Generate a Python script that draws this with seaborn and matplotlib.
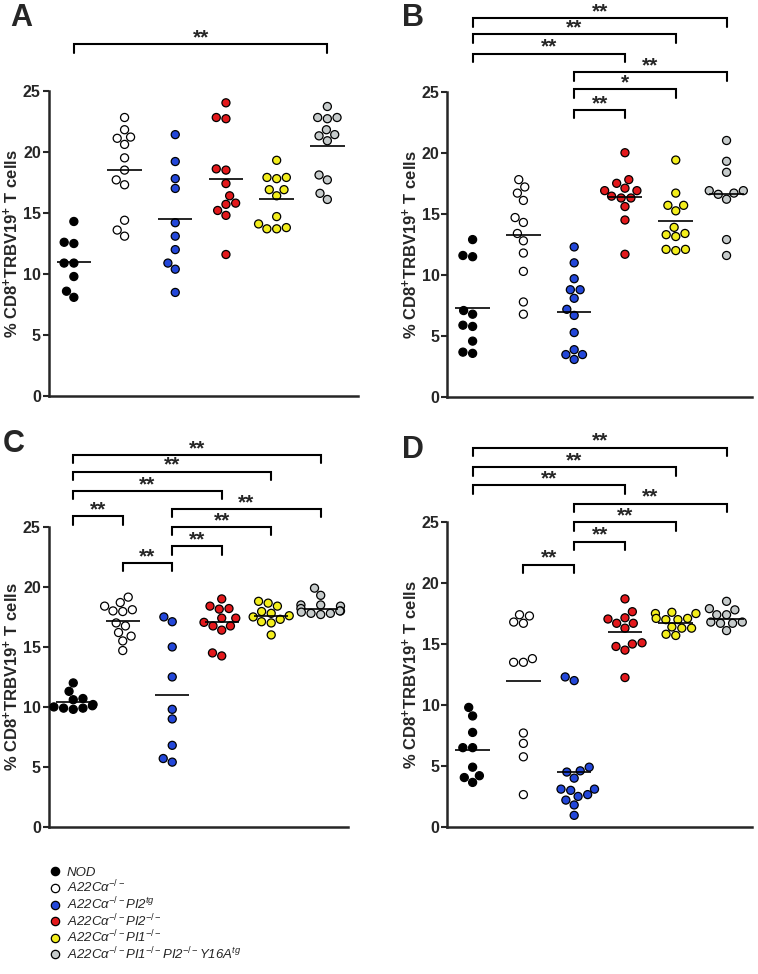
import numpy as np
import pandas as pd
import seaborn as sns
import matplotlib.pyplot as plt
from matplotlib.lines import Line2D

# groups (legend order) and colours
groups = ["NOD",
          r"A22Cα$^{-/-}$",
          r"A22Cα$^{-/-}$PI2$^{tg}$",
          r"A22Cα$^{-/-}$PI2$^{-/-}$",
          r"A22Cα$^{-/-}$PI1$^{-/-}$",
          r"A22Cα$^{-/-}$PI1$^{-/-}$PI2$^{-/-}$Y16A$^{tg}$"]
colors = ["#000000", "#ffffff", "#2347d9", "#e3191c", "#f3ee1c", "#c6cbcb"]

# panel A
a_nod = [14.3, 12.5, 12.6, 10.9, 10.9, 9.8, 8.6, 8.1]
a_ko = [22.8, 21.8, 21.2, 21.1, 20.6, 19.5, 18.5, 17.7, 17.3, 14.4, 13.6, 13.1]
a_pi2tg = [21.4, 19.2, 17.8, 17.0, 14.2, 13.1, 12.0, 10.9, 10.4, 8.5]
a_pi2ko = [24.0, 22.7, 22.8, 18.6, 18.5, 17.4, 16.4, 15.8, 15.7, 15.2, 14.8, 11.6]
a_pi1ko = [19.3, 17.9, 17.8, 17.9, 16.9, 16.9, 16.4, 14.7, 14.1, 13.8, 13.7, 13.7]
a_y16a = [23.7, 22.8, 22.7, 22.8, 21.8, 21.4, 21.3, 20.9, 18.1, 17.7, 16.6, 16.1]
a_means = [10.95, 18.5, 14.5, 17.8, 16.1, 20.5]

# panel B
b_nod = [12.9, 11.5, 11.6, 7.1, 6.8, 5.8, 5.9, 4.6, 3.6, 3.7]
b_ko = [16.7, 17.8, 17.2, 16.1, 14.3, 14.7, 13.4, 12.8, 11.8, 10.3, 7.8, 6.8]
b_pi2tg = [12.3, 11.0, 9.7, 8.8, 8.8, 8.1, 7.2, 6.7, 5.3, 3.5, 3.1, 3.5, 3.9]
b_pi2ko = [20.0, 17.5, 17.8, 16.9, 17.1, 16.9, 16.45, 16.3, 16.3, 15.6, 14.5, 11.7]
b_pi1ko = [19.4, 16.7, 15.7, 15.7, 15.25, 13.9, 13.4, 13.15, 13.3, 12.1, 12.0, 12.1]
b_y16a = [21.0, 19.3, 18.4, 16.9, 16.6, 16.9, 16.7, 16.2, 12.9, 11.6]
b_means = [7.3, 13.3, 7.0, 16.4, 14.4, 16.6]

# panel C
c_nod = [12.0, 11.3, 10.7, 10.6, 10.1, 10.0, 9.9, 9.9, 9.8, 10.2]
c_ko = [19.15, 18.7, 18.4, 17.95, 18.0, 18.1, 17.0, 16.75, 16.2, 15.9, 15.5, 14.7]
c_pi2tg = [17.5, 17.1, 15.0, 12.5, 9.8, 9.0, 6.8, 5.4, 5.7]
c_pi2ko = [18.4, 18.15, 18.2, 19.0, 17.4, 17.05, 17.4, 16.75, 16.75, 16.4, 14.25, 14.5]
c_pi1ko = [18.8, 18.4, 18.65, 17.95, 17.8, 17.6, 17.3, 17.1, 17.0, 17.5, 16.0]
c_y16a = [19.9, 19.3, 18.5, 18.4, 18.5, 18.2, 18.0, 17.9, 17.8, 18.0, 17.7, 17.8]
c_means = [10.45, 17.2, 11.0, 17.1, 17.6, 18.2]

# panel D
d_nod = [9.8, 9.1, 7.75, 6.5, 6.5, 4.9, 4.2, 4.05, 3.65]
d_ko = [17.3, 16.7, 16.8, 17.4, 13.5, 13.5, 13.8, 7.7, 6.85, 5.75, 2.65]
d_pi2tg = [12.3, 12.0, 4.6, 4.5, 4.9, 4.0, 3.1, 3.0, 3.1, 2.5, 2.65, 2.2, 1.8, 0.95]
d_pi2ko = [18.7, 17.65, 17.05, 17.15, 16.7, 16.3, 16.7, 15.1, 14.8, 14.5, 15.0, 12.25]
d_pi1ko = [17.5, 17.6, 17.5, 17.1, 17.0, 17.0, 17.1, 16.3, 16.3, 16.4, 15.7, 15.8]
d_y16a = [18.5, 17.8, 17.9, 17.4, 17.4, 16.8, 16.7, 16.8, 16.7, 16.1]
d_means = [6.3, 12.0, 4.5, 16.0, 16.7, 17.05]

# significance brackets: (group1, group2, height, label)
a_sig = [(0, 5, 28.8, "**")]
b_sig = [(0, 5, 31.0, "**"), (0, 4, 29.7, "**"), (0, 3, 28.1, "**"),
         (2, 5, 26.6, "**"), (2, 4, 25.2, "*"), (2, 3, 23.5, "**")]
c_sig = [(0, 5, 31.0, "**"), (0, 4, 29.6, "**"), (0, 3, 28.0, "**"),
         (2, 5, 26.5, "**"), (0, 1, 25.9, "**"), (2, 4, 25.0, "**"),
         (2, 3, 23.4, "**"), (1, 2, 22.0, "**")]
d_sig = [(0, 5, 31.1, "**"), (0, 4, 29.5, "**"), (0, 3, 28.0, "**"),
         (2, 5, 26.5, "**"), (2, 4, 25.0, "**"), (2, 3, 23.4, "**"),
         (1, 2, 21.5, "**")]

sns.set_style("ticks")
plt.rcParams['font.family'] = ['Liberation Sans', 'DejaVu Sans']
plt.rcParams['mathtext.fontset'] = 'custom'
plt.rcParams['mathtext.rm'] = 'Liberation Sans'
plt.rcParams['mathtext.it'] = 'Liberation Sans:italic'
plt.rcParams['mathtext.bf'] = 'Liberation Sans:bold'
plt.rcParams['mathtext.sf'] = 'Liberation Sans'


def make_df(series):
    rows = []
    for i, vals in enumerate(series):
        for v in vals:
            rows.append((i, v))
    return pd.DataFrame(rows, columns=["group", "value"])


def draw_panel(ax, series, means, sig, xmax):
    df = make_df(series)
    sns.swarmplot(data=df, x="group", y="value", hue="group", palette=colors,
                  size=5.8, linewidth=0.9, edgecolor="black", legend=False,
                  order=range(6), hue_order=range(6), ax=ax, warn_thresh=1)
    for i, m in enumerate(means):
        ax.hlines(m, i - 0.34, i + 0.34, color="black", lw=1.2, zorder=5)

    for g1, g2, y, lab in sig:
        ax.plot([g1, g1, g2, g2], [y - 0.7, y, y, y - 0.7], color="black",
                lw=1.5, clip_on=False, solid_joinstyle="miter")
        ax.text((g1 + g2) / 2, y - 0.25, lab, ha="center", va="bottom",
                fontsize=15, fontweight="bold")

    ax.set_xlim(-0.5, xmax)
    ax.set_ylim(0, 25)
    ax.set_yticks([0, 5, 10, 15, 20, 25])
    ax.set_xticks([])
    ax.set_xlabel("")
    ax.set_ylabel(r"% CD8$^{\mathbf{+}}$TRBV19$^{\mathbf{+}}$ T cells",
                  fontsize=12, fontweight="bold", labelpad=1)
    for lbl in ax.get_yticklabels():
        lbl.set_fontweight("bold")
    ax.tick_params(axis="y", labelsize=11.5, length=4, width=1.5, pad=1.5)
    for s in ["left", "bottom"]:
        ax.spines[s].set_linewidth(1.8)
    sns.despine(ax=ax)


fig = plt.figure(figsize=(7.58, 9.74), dpi=100)
ax_a = fig.add_axes([0.064, 0.593, 0.408, 0.314])
ax_b = fig.add_axes([0.590, 0.592, 0.402, 0.314])
ax_c = fig.add_axes([0.064, 0.151, 0.395, 0.308])
ax_d = fig.add_axes([0.590, 0.151, 0.402, 0.313])

draw_panel(ax_a, [a_nod, a_ko, a_pi2tg, a_pi2ko, a_pi1ko, a_y16a], a_means, a_sig, 5.6)
draw_panel(ax_b, [b_nod, b_ko, b_pi2tg, b_pi2ko, b_pi1ko, b_y16a], b_means, b_sig, 5.5)
draw_panel(ax_c, [c_nod, c_ko, c_pi2tg, c_pi2ko, c_pi1ko, c_y16a], c_means, c_sig, 5.55)
draw_panel(ax_d, [d_nod, d_ko, d_pi2tg, d_pi2ko, d_pi1ko, d_y16a], d_means, d_sig, 5.5)

fig.text(0.014, 0.997, "A", fontsize=22, fontweight="bold", va="top")
fig.text(0.530, 0.997, "B", fontsize=22, fontweight="bold", va="top")
fig.text(0.003, 0.560, "C", fontsize=22, fontweight="bold", va="top")
fig.text(0.530, 0.553, "D", fontsize=22, fontweight="bold", va="top")

handles = [Line2D([], [], marker="o", linestyle="none", markerfacecolor=c,
                  markeredgecolor="black", markeredgewidth=0.9, markersize=6.0)
           for c in colors]
fig.legend(handles, groups, loc="upper left", bbox_to_anchor=(0.064, 0.110),
           frameon=False, handletextpad=0.4, labelspacing=0.0, handlelength=1.0,
           borderpad=0, borderaxespad=0,
           prop={"family": "Liberation Sans", "style": "italic", "size": 9.5})

fig.savefig("out.png", dpi=100)
